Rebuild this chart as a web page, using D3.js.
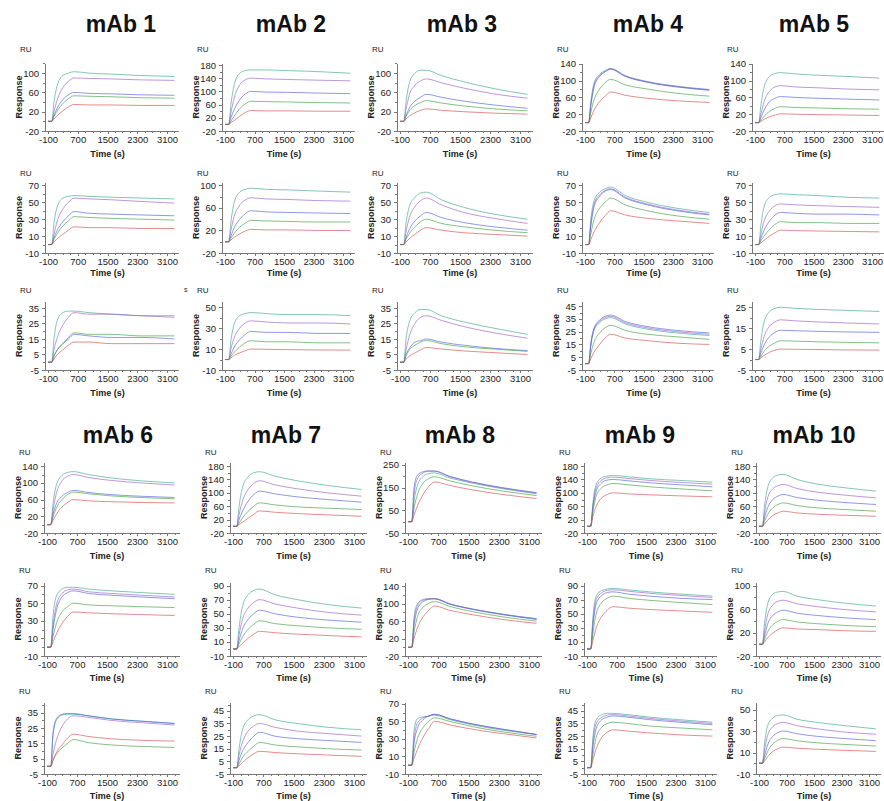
<!DOCTYPE html>
<html>
<head>
<meta charset="utf-8">
<script src="https://cdn.jsdelivr.net/npm/d3@7"></script>
<style>
  body { margin: 0; background: #fff; }
  text { font-family: "Liberation Sans", Arial, sans-serif; fill: #222; }
  .axis path, .axis line { stroke: #777; shape-rendering: crispEdges; }
  .axis text { font-size: 9.5px; fill: #222; }
</style>
</head>
<body>
<svg id="chart" width="884" height="801"></svg>
<script>
// sample times (s) shared by all sensorgram curves
var TIMES = [-100, 0, 60, 150, 300, 450, 600, 1000, 1600, 2400, 3300];
var X_TICKS = [-100, 700, 1500, 2300, 3100];
var TITLES = ["mAb 1", "mAb 2", "mAb 3", "mAb 4", "mAb 5", "mAb 6", "mAb 7", "mAb 8", "mAb 9", "mAb 10"];

// y tick labels per antibody, one list per row of panels
var mab1Ticks = [[-20, 20, 60, 100], [-10, 10, 30, 50, 70], [-5, 5, 15, 25, 35]];
var mab2Ticks = [[-20, 20, 60, 100, 140, 180], [-20, 20, 60, 100], [-10, 10, 30, 50]];
var mab3Ticks = [[-20, 20, 60, 100], [-10, 10, 30, 50, 70], [-5, 5, 15, 25, 35]];
var mab4Ticks = [[-20, 20, 60, 100, 140], [-10, 10, 30, 50, 70], [-5, 5, 15, 25, 35, 45]];
var mab5Ticks = [[-20, 20, 60, 100, 140], [-10, 10, 30, 50, 70], [-5, 5, 15, 25]];
var mab6Ticks = [[-20, 20, 60, 100, 140], [-10, 10, 30, 50, 70], [-5, 5, 15, 25, 35]];
var mab7Ticks = [[-20, 20, 60, 100, 140, 180], [-10, 10, 30, 50, 70, 90], [-5, 5, 15, 25, 35, 45]];
var mab8Ticks = [[-50, 50, 150, 250], [-20, 20, 60, 100, 140], [-10, 10, 30, 50, 70]];
var mab9Ticks = [[-20, 20, 60, 100, 140, 180], [-10, 10, 30, 50, 70, 90], [-5, 5, 15, 25, 35, 45]];
var mab10Ticks = [[-20, 20, 60, 100, 140, 180], [-20, 20, 60, 100], [-10, 10, 30, 50]];

// top of each y axis (RU)
var mab1Top = [121, 74, 39.5];
var mab2Top = [186, 106, 56];
var mab3Top = [121, 74, 39.5];
var mab4Top = [142, 74, 49];
var mab5Top = [142, 74, 28];
var mab6Top = [150, 74, 42];
var mab7Top = [192, 95, 52];
var mab8Top = [263, 150, 72];
var mab9Top = [192, 95, 52];
var mab10Top = [192, 106, 57];

// response (RU) at TIMES, 5 concentrations per panel, highest first
var mab1Resp = [
  [[0,0,40,75,95,100,103,100,98,95,93],
   [0,0,20,45,70,83,90,89,88,86,85],
   [0,0,12,28,45,55,60,58,57,55,54],
   [0,0,10,22,37,47,53,52,51,49,48],
   [0,0,5,12,22,30,35,34,34,33,33]],
  [[0,0,25,45,55,57,58,57,56,55,54],
   [0,0,12,28,42,50,55,54,53,51,49],
   [0,0,8,17,27,34,39,37,36,35,34],
   [0,0,6,13,22,28,33,32,31,30,29],
   [0,0,3,7,12,17,21,20,20,19,19]],
  [[0,0,15,27,32,33,33,32,31,30,30],
   [0,0,8,16,24,29,32,31,31,30,29],
   [0,0,4,8,12,15,18,17,16,16,15],
   [0,0,4,8,12,16,19,18,18,17,17],
   [0,0,2,5,8,11,13,13,12,12,12]]
];
var mab2Resp = [
  [[0,0,60,120,155,163,165,165,163,160,155],
   [0,0,35,80,120,135,140,138,136,134,132],
   [0,0,20,45,75,92,100,98,97,95,93],
   [0,0,10,25,48,62,70,69,68,66,65],
   [0,0,5,12,25,36,42,41,41,40,40]],
  [[0,0,35,70,88,93,95,93,92,90,88],
   [0,0,20,45,65,74,78,76,75,73,72],
   [0,0,10,25,40,50,55,53,52,51,50],
   [0,0,6,15,26,33,38,37,36,35,35],
   [0,0,3,8,14,19,22,21,21,20,20]],
  [[0,0,18,34,42,44,45,44,43,43,42],
   [0,0,10,21,30,35,37,36,35,35,34],
   [0,0,5,12,19,24,27,26,26,25,25],
   [0,0,3,7,12,16,18,17,17,16,16],
   [0,0,1.5,4,6.5,8.5,10,9.8,9.5,9.2,9]]
];
var mab3Resp = [
  [[0,0,40,80,100,106,106,95,82,68,56],
   [0,0,25,55,75,84,88,80,69,57,48],
   [0,0,12,28,42,50,56,50,42,34,27],
   [0,0,10,22,33,39,43,38,32,26,22],
   [0,0,5,11,18,23,26,23,20,17,15]],
  [[0,0,25,45,56,61,62,53,44,36,30],
   [0,0,15,32,45,52,55,47,38,31,25],
   [0,0,8,18,28,34,38,32,26,21,17],
   [0,0,6,13,21,27,30,25,21,17,14],
   [0,0,3,7,12,17,20,17,14,12,10]],
  [[0,0,15,26,32,34,34,30,26,22,18],
   [0,0,8,17,25,29,30,27,23,19,15.5],
   [0,0,5,9,13,14,15,13,11,9,7.5],
   [0,0,4,8,11,13,14,12,10,8.5,7],
   [0,0,2,4,6,8,9.5,8.5,7.3,6.2,5]]
];
var mab4Resp = [
  [[0,0,50,95,115,124,129,112,98,87,79],
   [0,0,45,90,112,122,128,111,97,86,78],
   [0,0,40,85,110,121,127,110,96,85,77],
   [0,0,25,55,80,95,103,90,80,70,63],
   [0,0,12,30,50,63,73,65,58,52,48]],
  [[0,0,30,52,62,66,68,58,50,43,38],
   [0,0,25,48,59,64,66,56,48,41,36],
   [0,0,22,45,57,63,65,55,47,40,35],
   [0,0,13,30,43,50,55,47,40,34,30],
   [0,0,6,15,26,34,40,35,31,28,25]],
  [[0,0,14,26,32,35,36,31,27,24,22],
   [0,0,15,27,33,36,37,32,28,25,23],
   [0,0,16,28,34,37,38,33,29,26,24],
   [0,0,8,17,24,28,30,26,23,21,19],
   [0,0,4,9,15,20,23,20,18,16,15]]
];
var mab5Resp = [
  [[0,0,40,85,110,117,119,116,113,110,106],
   [0,0,20,50,75,85,88,85,83,80,78],
   [0,0,12,30,50,58,62,60,58,56,54],
   [0,0,6,15,27,34,38,36,35,33,32],
   [0,0,3,8,14,18,21,20,19,18,17]],
  [[0,0,22,45,56,59,60,59,58,56,55],
   [0,0,12,28,40,46,48,47,46,45,44],
   [0,0,7,17,28,35,38,37,36,36,35],
   [0,0,4,10,18,24,27,26,26,25,25],
   [0,0,2,5,10,14,17,16.5,16,15.5,15]],
  [[0,0,9,18,23,24.5,25,24.5,24,23.5,23],
   [0,0,5,11,16,18,19,18.5,18,17.5,17],
   [0,0,3,7,11,13,14,13.8,13.5,13.2,13],
   [0,0,1.5,4,6.5,8,9,8.8,8.5,8.2,8],
   [0,0,0.8,2,3.5,4.5,5,4.9,4.8,4.6,4.5]]
];
var mab6Resp = [
  [[0,0,50,95,118,125,127,120,112,105,100],
   [0,0,35,75,105,116,120,113,106,100,95],
   [0,0,25,50,68,77,82,77,72,68,65],
   [0,0,18,40,60,72,78,74,69,65,62],
   [0,0,10,25,42,53,60,57,55,53,52]],
  [[0,0,35,58,66,68,68,66,64,62,60],
   [0,0,25,48,61,65,66,63,61,59,57],
   [0,0,20,42,57,62,64,61,59,57,55],
   [0,0,12,27,40,46,50,48,47,46,45],
   [0,0,6,15,27,35,40,39,38,37,36]],
  [[0,0,20,30,33.5,34,34,33,31,29.5,28],
   [0,0,8,17,26,31,33,32,30,28.5,27],
   [0,0,22,31,34,34.5,34.5,33,31,29.5,28],
   [0,0,4,8,12,15,17.5,15.5,14,13,12.3],
   [0,0,4,9,14,18.5,21,19.5,18,17,16.5]]
];
var mab7Resp = [
  [[0,0,60,115,148,160,163,150,136,122,110],
   [0,0,35,75,110,128,136,124,112,100,90],
   [0,0,20,45,75,95,105,97,88,80,72],
   [0,0,10,25,45,60,70,64,58,54,50],
   [0,0,5,12,24,36,46,42,38,34,30]],
  [[0,0,30,60,77,83,85,77,70,63,58],
   [0,0,20,42,58,66,70,64,58,52,48],
   [0,0,12,28,42,50,55,50,45,41,38],
   [0,0,7,17,28,35,40,36,33,30,28],
   [0,0,3,8,15,21,25,23,21,19,17]],
  [[0,0,15,30,38,41,42,38,35,32,30],
   [0,0,10,20,29,33,35,32,29,27,25],
   [0,0,6,13,20,25,28,25,23,21.5,20],
   [0,0,3,8,13,17,20,18,16.5,15,14],
   [0,0,1.5,4,8,11,13,12,11,10,9]]
];
var mab8Resp = [
  [[0,0,90,160,200,212,215,193,170,145,123],
   [0,0,120,190,215,222,222,198,173,148,126],
   [0,0,150,205,220,224,224,200,175,150,128],
   [0,0,60,120,170,190,198,180,158,135,115],
   [0,0,30,70,120,155,175,160,140,120,102]],
  [[0,0,70,100,110,112,112,100,88,76,65],
   [0,0,60,95,108,111,112,100,88,76,66],
   [0,0,50,88,105,110,111,99,87,75,64],
   [0,0,35,70,92,101,105,94,82,70,60],
   [0,0,20,45,70,85,95,85,75,64,55]],
  [[0,0,40,53,55,56,57,52,46,40,35],
   [0,0,30,48,54,56,58,53,47,41,35],
   [0,0,25,42,52,56,58,53,47,41,35],
   [0,0,15,30,43,50,54,50,44,38,33],
   [0,0,8,18,32,42,50,46,41,36,31]]
];
var mab9Resp = [
  [[0,0,70,125,145,150,152,148,142,137,132],
   [0,0,60,115,138,145,147,143,137,131,126],
   [0,0,55,105,130,138,140,136,130,124,118],
   [0,0,45,90,115,124,128,124,118,112,106],
   [0,0,30,60,85,95,100,97,94,91,88]],
  [[0,0,45,75,83,85,86,84,81,78,75],
   [0,0,38,70,80,83,84,82,79,76,73],
   [0,0,32,64,76,80,81,78,75,72,70],
   [0,0,22,50,66,72,75,72,69,66,63],
   [0,0,12,30,46,55,60,58,56,54,52]],
  [[0,0,24,38,42,43,43,42,40,38,36],
   [0,0,20,35,40,41.5,42,41,39,37,35],
   [0,0,16,31,38,40,41,40,38,36,34],
   [0,0,10,24,32,35,36,35,33,31.5,30],
   [0,0,6,15,24,28,30,29,27.5,26,25]]
];
var mab10Resp = [
  [[0,0,60,115,145,153,155,140,126,115,105],
   [0,0,40,85,112,121,125,113,102,93,85],
   [0,0,25,55,80,90,95,86,78,71,65],
   [0,0,15,35,55,65,70,62,55,50,45],
   [0,0,7,18,32,40,45,40,36,33,30]],
  [[0,0,35,68,85,89,90,82,76,70,65],
   [0,0,22,50,67,73,75,69,64,59,55],
   [0,0,14,34,49,55,58,53,49,45,42],
   [0,0,8,21,33,39,42,38,35,32,30],
   [0,0,4,11,19,25,28,26,25,23,22]],
  [[0,0,18,35,42,44.5,45,41,38,35,32],
   [0,0,12,26,34,37,38,35,32,29,27],
   [0,0,7,17,25,28.5,30,27.5,25,23,21],
   [0,0,4,11,18,21.5,23,21,19,17.5,16],
   [0,0,2,6,11,13.5,15,14,13,12,11]]
];

var allTicks = [mab1Ticks, mab2Ticks, mab3Ticks, mab4Ticks, mab5Ticks, mab6Ticks, mab7Ticks, mab8Ticks, mab9Ticks, mab10Ticks];
var allTops = [mab1Top, mab2Top, mab3Top, mab4Top, mab5Top, mab6Top, mab7Top, mab8Top, mab9Top, mab10Top];
var allResp = [mab1Resp, mab2Resp, mab3Resp, mab4Resp, mab5Resp, mab6Resp, mab7Resp, mab8Resp, mab9Resp, mab10Resp];

// ---- layout (pixels) ----
var colors = ["#3aa58a", "#9a5cc6", "#4f5fd6", "#3e9e3e", "#d44a4a"];
var titleY = [32, 443];
var titleX = [[121, 291, 462, 648, 814], [118, 286, 460, 640, 814]];
// per row: top of axis, bottom (x axis), RU label, "Time (s)"
var rows = [
  {top: 63, bottom: 131, ru: 52, time: 157},
  {top: 182, bottom: 253, ru: 176, time: 276},
  {top: 301, bottom: 370, ru: 293, time: 396},
  {top: 462, bottom: 533, ru: 455, time: 559},
  {top: 582, bottom: 656, ru: 573, time: 681},
  {top: 702, bottom: 774, ru: 694, time: 799}
];
// per column: pixel of t=-100 and t=3100
var cols = [
  [[48, 167], [225, 343], [400, 520], [585, 702], [755, 872]],
  [[47, 167], [233, 354], [408, 529], [587, 705], [759, 869]]
];

var svg = d3.select("#chart");

var line = d3.line()
  .x(function(d) { return d[0]; })
  .y(function(d) { return d[1]; })
  .curve(d3.curveMonotoneX);

var fmt = function(d) { return String(d); };

for (var m = 0; m < 10; m++) {
  var half = m < 5 ? 0 : 1;
  var c = m % 5;
  var px = cols[half][c];

  svg.append("text")
    .attr("x", titleX[half][c]).attr("y", titleY[half])
    .attr("text-anchor", "middle")
    .style("font-size", "23px").style("font-weight", "bold").style("fill", "#111")
    .text(TITLES[m]);

  for (var r = 0; r < 3; r++) {
    var row = rows[half * 3 + r];
    var ticks = allTicks[m][r];
    var k = (px[1] - px[0]) / 3200;

    var x = d3.scaleLinear()
      .domain([-180, 3420])
      .range([px[0] - 80 * k, px[1] + 320 * k]);
    var y = d3.scaleLinear()
      .domain([ticks[0], allTops[m][r]])
      .range([row.bottom, row.top]);

    var g = svg.append("g");
    var step = ticks[1] - ticks[0];
    var minorY = [];
    for (var v = ticks[0] + step / 2; v < allTops[m][r]; v += step / 2) minorY.push(v);
    var minorX = d3.range(-100, 3401, 200);

    g.append("g").attr("class", "axis")
      .attr("transform", "translate(0," + row.bottom + ")")
      .call(d3.axisBottom(x).tickValues(minorX).tickSize(2).tickSizeOuter(0).tickFormat(""));
    g.append("g").attr("class", "axis")
      .attr("transform", "translate(0," + row.bottom + ")")
      .call(d3.axisBottom(x).tickValues(X_TICKS).tickSize(3).tickSizeOuter(0).tickPadding(2).tickFormat(fmt));
    g.append("g").attr("class", "axis")
      .attr("transform", "translate(" + x.range()[0] + ",0)")
      .call(d3.axisLeft(y).tickValues(minorY).tickSize(2).tickSizeOuter(0).tickFormat(""));
    g.append("g").attr("class", "axis")
      .attr("transform", "translate(" + x.range()[0] + ",0)")
      .call(d3.axisLeft(y).tickValues(ticks).tickSize(3).tickSizeOuter(0).tickPadding(3).tickFormat(fmt));

    var ax = x.range()[0];
    g.append("text").attr("x", ax - 25).attr("y", row.ru)
      .style("font-size", "8px").text("RU");
    g.append("text")
      .attr("transform", "translate(" + (ax - 23) + "," + ((row.top + row.bottom) / 2) + ") rotate(-90)")
      .attr("text-anchor", "middle")
      .style("font-size", "9px").style("font-weight", "bold")
      .text("Response");
    g.append("text")
      .attr("x", (px[0] + px[1]) / 2).attr("y", row.time)
      .attr("text-anchor", "middle")
      .style("font-size", "9px").style("font-weight", "bold")
      .text("Time (s)");

    allResp[m][r].forEach(function(vals, i) {
      var pts = vals.map(function(v, j) { return [x(TIMES[j]), y(v)]; });
      g.append("path")
        .attr("d", line(pts))
        .attr("fill", "none")
        .attr("stroke", colors[i])
        .attr("stroke-width", 0.8)
        .attr("stroke-opacity", 0.8);
    });
  }
}

// stray glyph left of the mAb 2 lower panel
svg.append("text").attr("x", 184).attr("y", 292).style("font-size", "7px").text("s");
</script>
</body>
</html>
